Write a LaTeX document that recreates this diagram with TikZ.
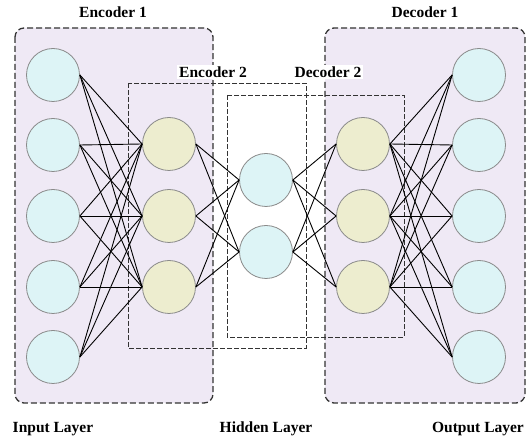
\documentclass[tikz,border=0pt]{standalone}
\usepackage{fontspec}
\setmainfont{Liberation Serif}
\definecolor{lav}{HTML}{EFE9F5}
\definecolor{cyanf}{HTML}{DDF4F6}
\definecolor{yelf}{HTML}{EDEDCF}
\definecolor{ring}{HTML}{8A8A8A}
\begin{document}
\begin{tikzpicture}[x=1pt,y=-1pt,
  neuron/.style={circle,draw=ring,line width=0.8pt,minimum size=53pt,inner sep=0pt},
  inneuron/.style={neuron,fill=cyanf},
  midneuron/.style={neuron,fill=yelf},
  bigbox/.style={draw=black!80,line width=1.3pt,dash pattern=on 6pt off 3pt,rounded corners=9pt,fill=lav},
  smallbox/.style={draw=black!80,line width=0.8pt,dash pattern=on 5pt off 2pt},
  lbl/.style={font=\bfseries\fontsize{15.5}{17}\selectfont,inner sep=2pt},
  tag/.style={lbl,fill=white},
  link/.style={line width=0.9pt,black}]
\useasboundingbox (0,0) rectangle (531,443);
\fill[white] (0,0) rectangle (531,443);
% big boxes
\draw[bigbox] (15,28) rectangle (213,403);
\draw[bigbox] (325,28) rectangle (525,403);
% small dashed boxes
\draw[smallbox] (128,83) rectangle (306,348);
\draw[smallbox] (227,95) rectangle (404,337);
% neurons
\foreach \i/\y in {1/75,2/145,3/216,4/287,5/357}{
  \node[inneuron] (in\i) at (53,\y) {};
  \node[inneuron] (out\i) at (479,\y) {};
}
\foreach \i/\y in {1/144,2/216,3/287}{
  \node[midneuron] (e\i) at (169,\y) {};
  \node[midneuron] (d\i) at (363,\y) {};
}
\node[inneuron] (h1) at (266,180) {};
\node[inneuron] (h2) at (266,252) {};
% links
\foreach \i in {1,...,5}{\foreach \j in {1,2,3}{
  \draw[link] (in\i.east) -- (e\j.west);
  \draw[link] (d\j.east) -- (out\i.west);
}}
\foreach \j in {1,2,3}{\foreach \k in {1,2}{
  \draw[link] (e\j.east) -- (h\k.west);
  \draw[link] (h\k.east) -- (d\j.west);
}}
% labels
\node[lbl] (tenc1) at (113,12) {Encoder 1};
\node[lbl] (tdec1) at (425,12) {Decoder 1};
\node[tag] (tenc2) at (213,72) {Encoder 2};
\node[tag] (tdec2) at (328,72) {Decoder 2};
\node[lbl] (tin) at (53,429) {Input Layer};
\node[lbl] (thid) at (266,429) {Hidden Layer};
\node[lbl] (tout) at (478,429) {Output Layer};
\end{tikzpicture}
\end{document}
